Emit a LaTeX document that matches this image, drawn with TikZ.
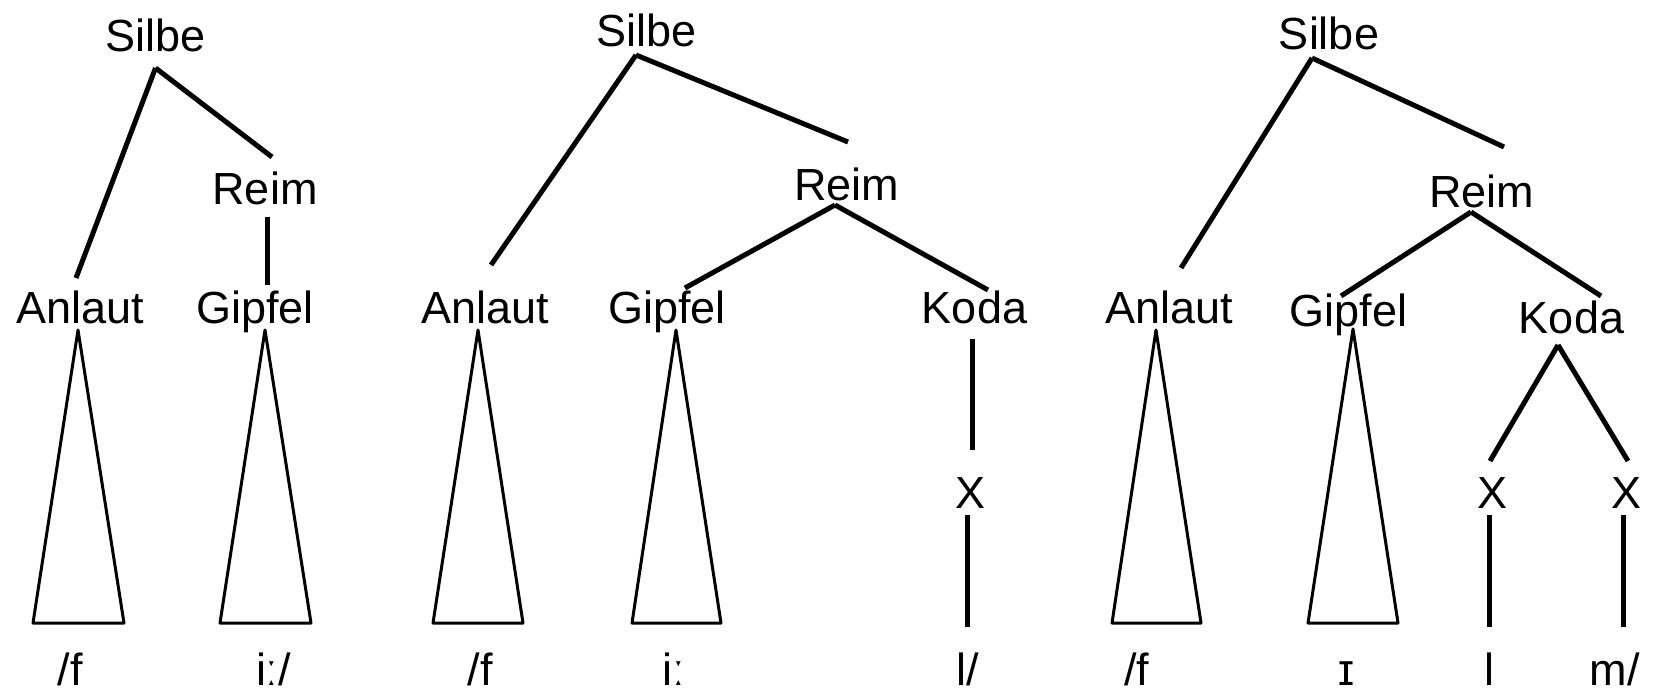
\documentclass[tikz,border=0pt]{standalone}
\usepackage{fontspec}
\setmainfont{Liberation Sans}
\usetikzlibrary{
	calc
}
\tikzset{
	x=0.5pt,
	y=-0.5pt,
	lbl/.style={
		font=\fontsize{22.5}{27}\selectfont,
		inner sep=0pt,
		anchor=base
	},
	every edge/.append style={
		line width=2.5pt
	},
	cone/.style={
		line width=1.5pt,
		line join=round
	}
}
\begin{document}
\begin{tikzpicture}
				\useasboundingbox (0,0) rectangle (1663,695);
				\draw
					node [lbl] (s1) at (155.5,52)  {Silbe}
					node [lbl] (a1) at (80.5,323)  {Anlaut}
					node [lbl] (r1) at (265,205)   {Reim}
					node [lbl] (g1) at (255,323)   {Gipfel}
					node [lbl] (f1) at (70,685)    {/f}
					node [lbl] (i1) at (273.5,685) {iː/}

					node [lbl] (s2) at (646.5,47)  {Silbe}
					node [lbl] (a2) at (485,323)   {Anlaut}
					node [lbl] (r2) at (846.5,200) {Reim}
					node [lbl] (g2) at (667,323)   {Gipfel}
					node [lbl] (k2) at (974.5,323) {Koda}
					node [lbl] (x2) at (970,508)   {X}
					node [lbl] (f2) at (480,685)   {/f}
					node [lbl] (i2) at (673.5,685) {iː}
					node [lbl] (l2) at (967.5,685) {l/}

					node [lbl] (s3)  at (1329,50)    {Silbe}
					node [lbl] (a3)  at (1169.5,323) {Anlaut}
					node [lbl] (r3)  at (1481.5,207) {Reim}
					node [lbl] (g3)  at (1348.5,326) {Gipfel}
					node [lbl] (k3)  at (1571.5,333) {Koda}
					node [lbl] (x3a) at (1492.5,508) {X}
					node [lbl] (x3b) at (1626,508)   {X}
					node [lbl] (f3)  at (1136.5,685) {/f}
					node [lbl] (i3)  at (1346,685)   {ɪ}
					node [lbl] (l3)  at (1489,685)   {l}
					node [lbl] (m3)  at (1614.5,685) {m/}

					($(s1.base)+(0,16)$)      edge ($(a1.base)+(-4.5,-45)$)
					($(s1.base)+(0,16)$)      edge ($(r1.base)+(7,-48)$)
					($(r1.base)+(2,12)$)      edge ($(g1.base)+(12,-38)$)

					($(s2.base)+(-10.5,8)$)   edge ($(a2.base)+(6,-58)$)
					($(s2.base)+(-10.5,8)$)   edge ($(r2.base)+(1.5,-58)$)
					($(r2.base)+(-11.5,5)$)   edge ($(g2.base)+(18,-35)$)
					($(r2.base)+(-11.5,5)$)   edge ($(k2.base)+(13.5,-33)$)
					($(k2.base)+(-2.5,16)$)   edge ($(x2.base)+(2,-58)$)
					($(x2.base)+(-3,7)$)      edge ($(l2.base)+(-0.5,-58)$)

					($(s3.base)+(-17,8)$)     edge ($(a3.base)+(11.5,-55)$)
					($(s3.base)+(-17,8)$)     edge ($(r3.base)+(22.5,-60)$)
					($(r3.base)+(-10.5,5)$)   edge ($(g3.base)+(-7.5,-30)$)
					($(r3.base)+(-10.5,5)$)   edge ($(k3.base)+(29.5,-37)$)
					($(k3.base)+(-13.5,12)$)  edge ($(x3a.base)+(-2.5,-47)$)
					($(k3.base)+(-13.5,12)$)  edge ($(x3b.base)+(2,-47)$)
					($(x3a.base)+(-3.5,7)$)   edge ($(l3.base)+(0,-58)$)
					($(x3b.base)+(-3,7)$)     edge ($(m3.base)+(8.5,-58)$)
				;
				\draw [cone] ($(a1.base)+(-2.5,7)$) -- ($(a1.base)+(-47.5,300)$) -- ($(a1.base)+(43.5,300)$) -- cycle;
				\draw [cone] ($(g1.base)+(10,7)$) -- ($(g1.base)+(-35,300)$) -- ($(g1.base)+(56,300)$) -- cycle;
				\draw [cone] ($(a2.base)+(-7,7)$) -- ($(a2.base)+(-52,300)$) -- ($(a2.base)+(38,300)$) -- cycle;
				\draw [cone] ($(g2.base)+(9,7)$) -- ($(g2.base)+(-35,300)$) -- ($(g2.base)+(54,300)$) -- cycle;
				\draw [cone] ($(a3.base)+(-13.5,7)$) -- ($(a3.base)+(-57.5,300)$) -- ($(a3.base)+(31.5,300)$) -- cycle;
				\draw [cone] ($(g3.base)+(4.5,3)$) -- ($(g3.base)+(-40.5,297)$) -- ($(g3.base)+(49.5,297)$) -- cycle;
			\end{tikzpicture}
\end{document}
